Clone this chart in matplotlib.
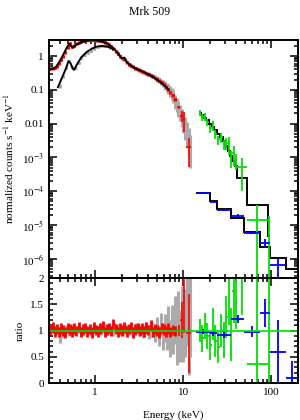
import numpy as np
import matplotlib
matplotlib.use("Agg")
import matplotlib.pyplot as plt
from matplotlib import ticker

# ---- values ----
title = "Mrk 509"

# red spectrum (soft X-ray instrument)
red_e = [0.31, 0.33, 0.35, 0.37, 0.39, 0.41, 0.43, 0.46, 0.49, 0.52,
         0.55, 0.58, 0.61, 0.65, 0.69, 0.73, 0.77, 0.82, 0.87, 0.92,
         0.97, 1.03, 1.09, 1.15, 1.22, 1.29, 1.37, 1.45, 1.53, 1.62,
         1.72, 1.82, 1.93, 2.04, 2.16, 2.29, 2.42, 2.56, 2.71, 2.87,
         3.04, 3.22, 3.41, 3.61, 3.82, 4.04, 4.28, 4.53, 4.80, 5.08,
         5.38, 5.70, 6.03, 6.38, 6.76, 7.15, 7.57, 8.00]
red_flux = [0.42, 0.43, 0.45, 0.50, 0.62, 0.78, 0.98, 1.3, 1.8, 2.4,
            1.9, 2.0, 2.3, 2.5, 2.7, 2.8, 2.9, 3.0, 3.05, 3.0,
            3.0, 2.95, 2.9, 2.8, 2.7, 2.6, 2.4, 2.15, 1.95, 1.65,
            1.4, 1.18, 1.0, 0.88, 0.8, 0.66, 0.58, 0.52, 0.48, 0.44,
            0.41, 0.38, 0.355, 0.33, 0.31, 0.29, 0.27, 0.25, 0.225, 0.205,
            0.185, 0.165, 0.145, 0.125, 0.105, 0.085, 0.068, 0.052]
red_ratio = [1.02, 1.06, 0.98, 1.03, 0.97, 1.04, 1.00, 0.96, 1.05, 1.02,
             0.98, 1.04, 0.99, 1.07, 0.97, 1.02, 1.05, 0.98, 1.03, 0.96,
             1.06, 1.01, 0.98, 1.04, 1.08, 0.97, 1.02, 1.05, 0.99, 1.12,
             1.03, 0.97, 1.04, 1.00, 1.06, 0.98, 1.03, 1.07, 0.96, 1.02,
             1.05, 0.99, 1.04, 0.98, 1.06, 1.01, 1.10, 0.97, 1.03, 1.00,
             0.96, 1.05, 1.02, 0.98, 1.04, 0.97, 1.01, 0.99]
red_rel_err = 0.1

red_hi_e = [8.9, 9.6, 10.1, 11.5]
red_hi_lo = [8.5, 9.3, 9.9, 10.9]
red_hi_hi = [9.3, 9.9, 10.4, 12.3]
red_hi_flux = [0.031, 0.017, 0.014, 0.0021]
red_hi_ratio = [1.0, 1.2, 1.55, 0.95]
red_hi_err = [0.1, 0.35, 0.6, 0.75]

# red model (black)
red_model_e = [0.30, 0.33, 0.36, 0.40, 0.44, 0.48, 0.51, 0.53, 0.56, 0.62,
               0.70, 0.85, 1.0, 1.2, 1.4, 1.6, 1.8, 1.9, 2.0, 2.15,
               2.3, 2.6, 3.0, 3.5, 4.0, 4.8, 5.5, 6.2, 6.8]
red_model = [0.40, 0.42, 0.47, 0.72, 1.15, 1.8, 2.3, 2.0, 1.8, 2.2,
             2.6, 2.9, 2.95, 2.7, 2.3, 1.75, 1.25, 1.05, 0.85, 0.9,
             0.66, 0.5, 0.41, 0.34, 0.29, 0.22, 0.17, 0.13, 0.1]
red_tail_edges = [6.8, 7.3, 7.8, 8.4, 9.0, 9.6, 10.3, 11.0, 11.8]
red_tail = [0.085, 0.065, 0.048, 0.034, 0.022, 0.013, 0.006, 0.0022]

# grey spectrum (second soft instrument)
grey_e = [0.40, 0.43, 0.47, 0.51, 0.55, 0.60, 0.65, 0.70, 0.76, 0.83,
          0.90, 0.98, 1.07, 1.16, 1.26, 1.37, 1.49, 1.62, 1.76, 1.92,
          2.09, 2.27, 2.47, 2.69, 2.92, 3.18, 3.46, 3.76, 4.09, 4.45,
          4.75, 5.0, 5.3, 5.6, 5.9, 6.2, 6.5, 6.8, 7.1, 7.4,
          7.7, 8.0, 8.4, 8.8, 9.2, 9.6, 10.0, 10.5, 11.0, 11.5, 12.0]
grey_flux = [0.13, 0.25, 0.45, 0.70, 0.48, 0.45, 0.62, 0.85, 1.05, 1.25,
             1.45, 1.65, 1.85, 1.95, 2.0, 1.95, 1.8, 1.6, 1.3, 1.0,
             0.82, 0.68, 0.56, 0.48, 0.44, 0.39, 0.355, 0.32, 0.29, 0.26,
             0.235, 0.215, 0.195, 0.175, 0.16, 0.14, 0.125, 0.11, 0.095, 0.082,
             0.07, 0.05, 0.04, 0.031, 0.024, 0.018, 0.013, 0.0095, 0.0065, 0.0042, 0.0025]
grey_ratio = [0.88, 0.95, 1.03, 0.97, 1.05, 0.99, 1.02, 0.96, 1.04, 1.00,
              0.97, 1.03, 1.01, 0.98, 1.05, 0.99, 1.02, 0.97, 1.04, 1.00,
              0.98, 1.03, 1.01, 0.96, 1.04, 1.00, 0.98, 1.05, 0.97, 1.02,
              0.95, 1.08, 0.90, 1.12, 0.88, 1.05, 0.92, 1.15, 0.85, 1.10,
              0.95, 1.20, 0.80, 1.25, 0.90, 1.30, 1.00, 1.15, 1.40, 0.90, 1.30]
grey_err = [0.12, 0.10, 0.08, 0.08, 0.07, 0.07, 0.07, 0.07, 0.07, 0.07,
            0.07, 0.07, 0.07, 0.07, 0.07, 0.08, 0.08, 0.08, 0.08, 0.09,
            0.09, 0.09, 0.10, 0.10, 0.10, 0.11, 0.12, 0.12, 0.13, 0.14,
            0.16, 0.18, 0.20, 0.22, 0.25, 0.27, 0.30, 0.32, 0.35, 0.38,
            0.40, 0.45, 0.45, 0.50, 0.50, 0.55, 0.60, 0.65, 0.70, 0.75, 0.80]
grey_model_e = [0.38, 0.42, 0.47, 0.50, 0.53, 0.56, 0.58, 0.62, 0.70, 0.80,
                0.92, 1.05, 1.2, 1.4, 1.6]
grey_model = [0.12, 0.22, 0.44, 0.71, 0.6, 0.42, 0.39, 0.55, 0.92, 1.3,
              1.65, 1.9, 2.0, 1.88, 1.62]

# green spectrum (hard X-ray)
green_edges = [15, 16, 17, 18, 19.5, 21, 22.5, 24, 26, 28, 30, 32, 34, 36,
               38.5, 41.2, 52.3, 92.4, 96]
green_model = [0.021, 0.018, 0.015, 0.0125, 0.010, 0.0080, 0.0064, 0.0050,
               0.0039, 0.0030, 0.0022, 0.0016, 0.0011, 0.00078, 0.00055,
               0.000246, 3.9e-5, 4.8e-6]
green_flux = [0.021, 0.0155, 0.016, 0.0112, 0.0073, 0.0089, 0.0051, 0.0034,
              0.0039, 0.0025, 0.0027, 0.0026, 0.001, 0.00136, 0.00083,
              0.00052, 1.45e-5, 7.2e-6]
green_ratio = [1.00, 0.85, 1.08, 0.90, 0.72, 1.12, 0.80, 0.68, 1.00, 0.82,
               1.25, 1.65, 0.92, 1.75, 1.52, 2.1, 0.37, 1.5]
green_err = [0.22, 0.25, 0.25, 0.25, 0.28, 0.30, 0.30, 0.30, 0.32, 0.35,
             0.40, 0.55, 0.50, 0.60, 0.50, 0.80, 1.70, 1.60]

# blue spectrum (hardest band)
blue_edges = [13.8, 19.9, 23.9, 35.3, 49.5, 75.1, 97.4, 147.7, 196.6]
blue_model = [8.85e-5, 5.1e-5, 2.97e-5, 1.61e-5, 6.2e-6, 2.23e-6, 1.06e-6, 5.0e-7]
blue_flux = [8.6e-5, 4.9e-5, 2.75e-5, 1.9e-5, 6.0e-6, 2.95e-6, 6.4e-7, 5e-8]
blue_ratio = [0.98, 0.95, 0.92, 1.22, 0.98, 1.33, 0.60, 0.10]
blue_err = [0.05, 0.05, 0.06, 0.08, 0.10, 0.27, 0.60, 0.32]

top_ticks = [1, 0.1, 0.01, 1e-3, 1e-4, 1e-5, 1e-6]
top_tick_labels = ["1", "0.1", "0.01", "10$^{-3}$", "10$^{-4}$", "10$^{-5}$", "10$^{-6}$"]

RED, GREY, GREEN, BLUE = "#ff0000", "#aaaaaa", "#00e000", "#0000ff"

plt.rcParams["font.family"] = ["Liberation Serif", "DejaVu Serif"]
plt.rcParams["mathtext.fontset"] = "stix"
plt.rcParams["font.size"] = 8


def bins(edges):
    e = np.array(edges)
    lo, hi = e[:-1], e[1:]
    c = np.sqrt(lo * hi)
    return c, [c - lo, hi - c]


def style(ax):
    ax.tick_params(which="both", direction="in", top=True, right=True, width=1.1)
    ax.tick_params(which="major", length=6)
    ax.tick_params(which="minor", length=3)
    for s in ax.spines.values():
        s.set_linewidth(1.4)


fig = plt.figure(figsize=(3.0, 4.2), dpi=100)
ax1 = fig.add_axes([0.163, 0.338, 0.830, 0.567])
ax2 = fig.add_axes([0.163, 0.088, 0.830, 0.250], sharex=ax1)

red_e_a = np.array(red_e)
grey_e_a = np.array(grey_e)
gc, gx = bins(green_edges)
bc, bx = bins(blue_edges)
MW = 1.4  # model line width

# ---- top panel ----
ax1.errorbar(grey_e, grey_flux, xerr=grey_e_a * 0.03,
             yerr=np.array(grey_flux) * np.array(grey_err),
             fmt="none", ecolor=GREY, elinewidth=2.2)
ax1.errorbar(red_e, red_flux, xerr=red_e_a * 0.03,
             yerr=np.array(red_flux) * red_rel_err,
             fmt="none", ecolor=RED, elinewidth=2.2)
ax1.errorbar(red_hi_e, red_hi_flux,
             xerr=[np.array(red_hi_e) - red_hi_lo, np.array(red_hi_hi) - red_hi_e],
             yerr=np.array(red_hi_flux) * np.array(red_hi_err),
             fmt="none", ecolor=RED, elinewidth=1.2)
ax1.errorbar(gc, green_flux, xerr=gx,
             yerr=np.array(green_flux) * np.array(green_err),
             fmt="none", ecolor=GREEN, elinewidth=1.3)
ax1.errorbar(bc, blue_flux, xerr=bx,
             yerr=np.array(blue_flux) * np.array(blue_err),
             fmt="none", ecolor=BLUE, elinewidth=1.3)

ax1.plot(red_model_e, red_model, color="black", lw=MW)
ax1.stairs(red_tail, red_tail_edges, baseline=None, color="black", lw=MW)
ax1.plot(grey_model_e, grey_model, color="black", lw=MW)
ax1.stairs(green_model, green_edges, baseline=None, color="black", lw=MW)
ax1.stairs(blue_model, blue_edges, baseline=None, color="black", lw=MW)

ax1.set_xscale("log")
ax1.set_yscale("log")
ax1.set_xlim(0.3, 200)
ax1.set_ylim(2.7e-7, 3.0)
ax1.yaxis.set_major_locator(ticker.FixedLocator(top_ticks))
ax1.yaxis.set_major_formatter(ticker.FixedFormatter(top_tick_labels))
ax1.yaxis.set_minor_locator(ticker.LogLocator(base=10, subs=range(2, 10), numticks=20))
ax1.yaxis.set_minor_formatter(ticker.NullFormatter())
ax1.set_ylabel("normalized counts s$^{-1}$ keV$^{-1}$", labelpad=4)
plt.setp(ax1.get_xticklabels(), visible=False)
style(ax1)

# ---- ratio panel ----
ax2.errorbar(grey_e, grey_ratio, xerr=grey_e_a * 0.03, yerr=grey_err,
             fmt="none", ecolor=GREY, elinewidth=2.2)
ax2.errorbar(red_e, red_ratio, xerr=red_e_a * 0.03, yerr=red_rel_err,
             fmt="none", ecolor=RED, elinewidth=2.0)
ax2.errorbar(red_hi_e, red_hi_ratio,
             xerr=[np.array(red_hi_e) - red_hi_lo, np.array(red_hi_hi) - red_hi_e],
             yerr=red_hi_err, fmt="none", ecolor=RED, elinewidth=1.2)
ax2.errorbar(gc, green_ratio, xerr=gx, yerr=green_err,
             fmt="none", ecolor=GREEN, elinewidth=1.3)
ax2.errorbar(bc, blue_ratio, xerr=bx, yerr=blue_err,
             fmt="none", ecolor=BLUE, elinewidth=1.3)
ax2.axhline(1, color=GREEN, lw=1.2)

ax2.set_ylim(0, 2)
ax2.yaxis.set_major_locator(ticker.MultipleLocator(0.5))
ax2.yaxis.set_minor_locator(ticker.MultipleLocator(0.1))
ax2.yaxis.set_major_formatter(ticker.FuncFormatter(lambda v, p: "%g" % v))
ax2.xaxis.set_major_formatter(ticker.FuncFormatter(lambda v, p: "%g" % v))
ax2.xaxis.set_minor_formatter(ticker.NullFormatter())
ax2.set_ylabel("ratio", labelpad=4)
ax2.set_xlabel("Energy (keV)", labelpad=10)
style(ax2)

fig.text(0.5, 1 - 12 / 420, title, ha="center", va="center", fontsize=8.5)

fig.savefig("out.png", dpi=100)
